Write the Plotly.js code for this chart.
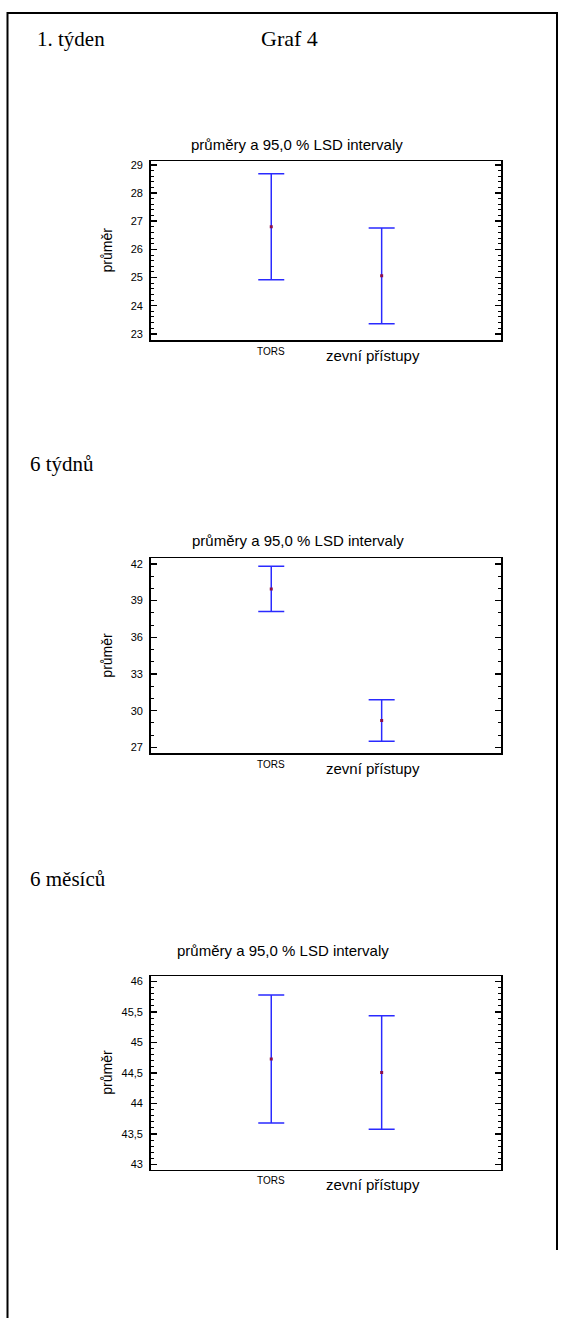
<!DOCTYPE html>
<html>
<head>
<meta charset="utf-8">
<script src="https://cdn.plot.ly/plotly-3.0.1.min.js"></script>
<style>
html,body{margin:0;padding:0;background:#fff;}
#chart{width:564px;height:1318px;}
</style>
</head>
<body>
<div id="chart"></div>
<script>
// ---- data ----
const categories = ['TORS', 'zevní přístupy'];
const panelLabels = ['1. týden', '6 týdnů', '6 měsíců'];
const pageTitle = 'Graf 4';
const chartTitle = 'průměry a 95,0 % LSD intervaly';
const yTitle = 'průměr';

const means1 = [26.805, 25.06];
const lsd1   = [1.88, 1.70];
const means2 = [39.95, 29.20];
const lsd2   = [1.85, 1.70];
const means3 = [44.73, 44.51];
const lsd3   = [1.05, 0.93];

const xIdx = categories.map((c, i) => i);

// ---- layout helpers ----
const W = 564, H = 1318;
const px = v => v / W;
const py = v => 1 - v / H;

const series = [
  {m: means1, e: lsd1},
  {m: means2, e: lsd2},
  {m: means3, e: lsd3}
];

const frames = [
  {top: 161, bottom: 340, range: [22.78, 29.14], dtick: 1, tick0: 23, minor: 0.2, titleY: 144, titleX: 297},
  {top: 558.3, bottom: 753, range: [26.54, 42.46], dtick: 3, tick0: 27, minor: 1, titleY: 540, titleX: 298},
  {top: 976, bottom: 1169.5, range: [42.92, 46.09], dtick: 0.5, tick0: 43, minor: 0.1, titleY: 950, titleX: 283}
];
const left = 150.7, right = 501;

const traces = [];
const layout = {
  width: W, height: H,
  margin: {l: 0, r: 0, t: 0, b: 0},
  paper_bgcolor: '#fff', plot_bgcolor: '#fff',
  showlegend: false,
  separators: ', ',
  font: {family: 'Liberation Sans, Arial, sans-serif', color: '#000'},
  annotations: [],
  shapes: []
};

series.forEach((s, k) => {
  const f = frames[k];
  const sfx = k === 0 ? '' : String(k + 1);
  traces.push({
    type: 'scatter', mode: 'markers',
    x: xIdx, y: s.m,
    xaxis: 'x' + sfx, yaxis: 'y' + sfx,
    marker: {symbol: 'square', size: 3, color: '#8a0f4a'},
    error_y: {type: 'data', array: s.e, visible: true, color: '#2a2aff', thickness: 1.5, width: 13},
    hoverinfo: 'skip'
  });
  layout['xaxis' + sfx] = {
    domain: [px(left), px(right)],
    anchor: 'y' + sfx,
    range: [-1.092, 2.081],
    showline: true, linewidth: 1.5, linecolor: '#000', mirror: true,
    ticks: '', showticklabels: false, showgrid: false, zeroline: false, fixedrange: true
  };
  layout['yaxis' + sfx] = {
    domain: [py(f.bottom), py(f.top)],
    anchor: 'x' + sfx,
    range: f.range,
    tickmode: 'linear', tick0: f.tick0, dtick: f.dtick,
    ticks: 'inside', ticklen: 6, tickwidth: 1.5, tickcolor: '#000',
    minor: {ticks: 'inside', ticklen: 3, tickwidth: 1, tickcolor: '#000', dtick: f.minor, tick0: f.tick0, showgrid: false},
    showline: true, linewidth: 1.5, linecolor: '#000', mirror: 'ticks',
    showgrid: false, zeroline: false, fixedrange: true,
    ticklabelstandoff: 4,
    tickfont: {family: 'Liberation Sans, Arial, sans-serif', size: 11, color: '#000'}
  };
  // chart title
  layout.annotations.push({
    xref: 'paper', yref: 'paper', x: px(f.titleX), y: py(f.titleY),
    xanchor: 'center', yanchor: 'middle', showarrow: false,
    text: chartTitle, font: {family: 'Liberation Sans, Arial, sans-serif', size: 15, color: '#000'}
  });
  // y title
  layout.annotations.push({
    xref: 'paper', yref: 'paper', x: px(107), y: py((f.top + f.bottom) / 2),
    xanchor: 'center', yanchor: 'middle', showarrow: false, textangle: -90,
    text: yTitle, font: {family: 'Liberation Sans, Arial, sans-serif', size: 14, color: '#000'}
  });
  // category labels (below the frame)
  categories.forEach((c, i) => {
    layout.annotations.push({
      xref: 'x' + sfx, yref: 'paper', x: xIdx[i], y: py(f.bottom + (i === 0 ? 11 : 15)),
      xanchor: 'center', yanchor: 'middle', showarrow: false,
      xshift: i === 0 ? 0 : -9,
      text: c,
      font: {family: 'Liberation Sans, Arial, sans-serif', size: i === 0 ? 10 : 15, color: '#000'}
    });
  });
});

// panel headings (serif)
const headY = [39, 463.5, 879];
const headX = [35, 28, 28];
panelLabels.forEach((t, i) => {
  layout.annotations.push({
    xref: 'paper', yref: 'paper', x: px(headX[i]), y: py(headY[i]),
    xanchor: 'left', yanchor: 'middle', showarrow: false,
    text: t, font: {family: 'Liberation Serif, Times New Roman, serif', size: 21, color: '#000'}
  });
});
layout.annotations.push({
  xref: 'paper', yref: 'paper', x: px(259), y: py(39),
  xanchor: 'left', yanchor: 'middle', showarrow: false,
  text: pageTitle, font: {family: 'Liberation Serif, Times New Roman, serif', size: 22, color: '#000'}
});

// page frame lines
layout.shapes.push(
  {type: 'line', xref: 'paper', yref: 'paper', x0: px(7.5), x1: px(557), y0: py(13), y1: py(13), line: {color: '#000', width: 2}},
  {type: 'line', xref: 'paper', yref: 'paper', x0: px(7.5), x1: px(7.5), y0: py(12), y1: py(1318), line: {color: '#000', width: 2}},
  {type: 'line', xref: 'paper', yref: 'paper', x0: px(557), x1: px(557), y0: py(12), y1: py(1250), line: {color: '#000', width: 2}}
);

Plotly.newPlot('chart', traces, layout, {displayModeBar: false, staticPlot: true});
</script>
</body>
</html>
